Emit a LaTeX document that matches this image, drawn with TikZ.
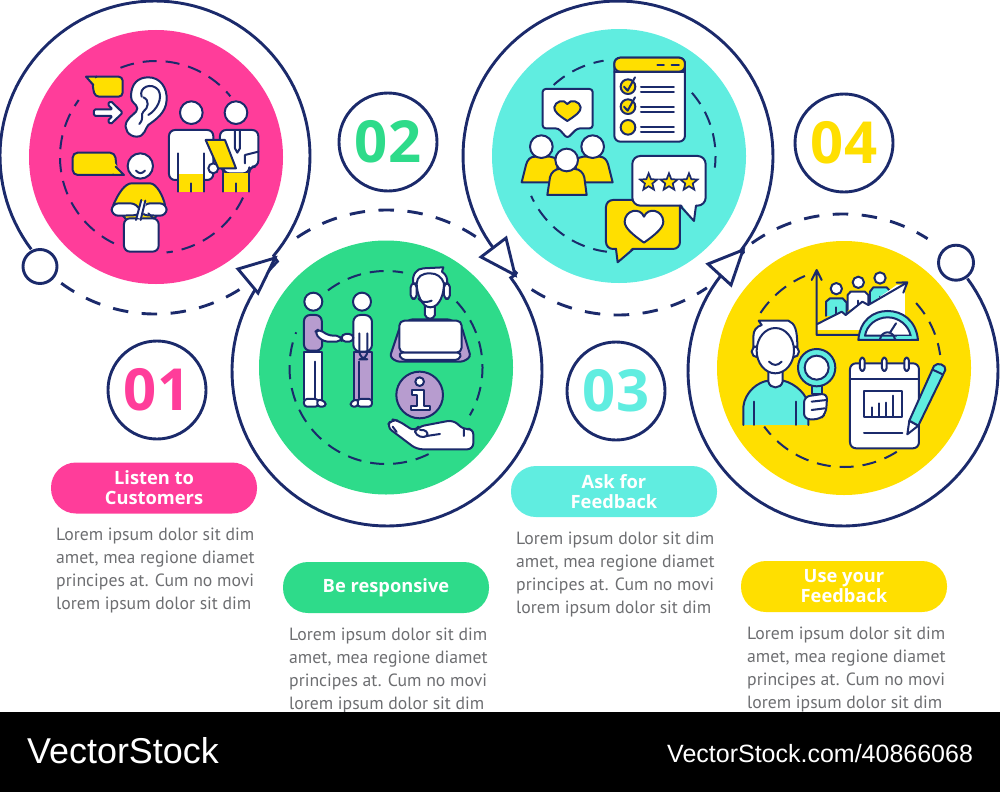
\documentclass[tikz,border=0pt]{standalone}
\usepackage{fontspec}
\usetikzlibrary{shapes.geometric}
\setmainfont{PT Sans}
\newfontfamily\headfont{Open Sans}
\newfontfamily\barfont{Liberation Sans}
\definecolor{navy}{HTML}{1B2A6B}
\definecolor{pinkc}{HTML}{FF3D9A}
\definecolor{greenc}{HTML}{2EDB8A}
\definecolor{cyanc}{HTML}{60EDE0}
\definecolor{yellowc}{HTML}{FFDF00}
\definecolor{purplec}{HTML}{B79CCF}
\definecolor{textgray}{HTML}{6D6E71}
\newcommand{\arcof}[5]{plot[domain=#4:#5,samples=90] ({#1+#3*cos(\x)},{#2+#3*sin(\x)})}
\newcommand{\arcto}[5]{-- plot[domain=#4:#5,samples=90] ({#1+#3*cos(\x)},{#2+#3*sin(\x)})}
\newcommand{\loremtext}{Lorem ipsum dolor sit dim\\amet, mea regione diamet\\principes at. Cum no movi\\lorem ipsum dolor sit dim}
\tikzset{
    ring/.style={navy, line width=2.9pt},
    ringdash/.style={navy, line width=2.9pt, dash pattern=on 15.5pt off 13.5pt},
    innerdash/.style={navy, line width=2pt, dash pattern=on 14pt off 9pt},
    arrowtri/.style={draw=navy, fill=white, line width=2.9pt, line join=miter},
    dot/.style={draw=navy, fill=white, line width=2.9pt},
    numbox/.style={circle, draw=navy, fill=white, line width=2.9pt, minimum size=98pt, inner sep=0pt,
        font=\headfont\fontsize{58}{58}\selectfont\bfseries},
    pillbox/.style={rounded corners=25pt, minimum width=206pt, minimum height=51pt, inner sep=0pt, text=white, align=center,
        font=\headfont\fontsize{18.3}{20}\selectfont\bfseries},
    bodytext/.style={anchor=north west, inner sep=0pt, align=left, text=textgray,
        font=\fontsize{17.7}{23}\selectfont},
    ln/.style={navy, line width=2pt, line join=round, line cap=round},
    wh/.style={ln, fill=white},
    yl/.style={ln, fill=yellowc},
    pu/.style={ln, fill=purplec},
    cy/.style={ln, fill=cyanc},
}
\begin{document}
\begin{tikzpicture}[x=1pt,y=-1pt]
\useasboundingbox (0,0) rectangle (1000,792);

% discs
\fill[pinkc] (156,157) circle (127);
\fill[greenc] (386,367.5) circle (127);
\fill[cyanc] (619,156) circle (127);
\fill[yellowc] (844,368) circle (127);

% ends of the rings
\coordinate (tip1) at (275,258);
\coordinate (tip2) at (515,275);
\coordinate (tip3) at (743,250);

% rings
\draw[ring] (tip1) \arcto{155}{156}{155}{40}{-217};
\draw[ring] (tip2) \arcto{387}{371}{155}{-37}{225} -- (tip1);
\draw[ring] (tip3) \arcto{618}{156}{155}{37}{-229} -- (tip2);
\draw[ring] \arcof{843}{371}{155}{-36.6}{230} -- (tip3);
\draw[ringdash] \arcof{155}{156}{158}{126.4}{56.4};
\draw[ringdash] \arcof{387}{371}{161}{-124}{-52.4};
\draw[ringdash] \arcof{618}{156}{159}{122.9}{56};
\draw[ringdash] \arcof{843}{371}{157}{-125.5}{-57.4};

% arrow heads and free ends
\draw[arrowtri] (tip1) -- (238,269) -- (258,293) -- cycle;
\draw[arrowtri] (tip2) -- (481,257) -- (506,238) -- cycle;
\draw[arrowtri] (tip3) -- (708,264) -- (731,285) -- cycle;
\draw[dot] (40,266.5) circle (17);
\draw[dot] (956,262.7) circle (17.5);

% dashed circles inside the discs
\draw[innerdash] \arcof{156}{157}{96}{-111.7}{-39.2};
\draw[innerdash] \arcof{156}{157}{96}{25}{83.7};
\draw[innerdash] \arcof{156}{157}{96}{116}{216.4};
\draw[innerdash] \arcof{386}{367.5}{96.5}{-127}{-79.8};
\draw[innerdash] \arcof{386}{367.5}{96.5}{-43}{29.7};
\draw[innerdash] \arcof{386}{367.5}{96.5}{63.8}{201.4};
\draw[innerdash] \arcof{619}{156}{96.5}{-132.6}{-99.2};
\draw[innerdash] \arcof{619}{156}{96.5}{-40.9}{6.9};
\draw[innerdash] \arcof{619}{156}{96.5}{97.2}{155.6};
\draw[innerdash] \arcof{844}{368}{100}{-146.6}{-113};
\draw[innerdash] \arcof{844}{368}{97}{-42}{-7.7};
\draw[innerdash] \arcof{844}{368}{99}{57.8}{143.7};

% icon 1
\begin{scope}[shift={(0,0)},x=0.3333pt,y=-0.3333pt]
    \draw[yl,rounded corners=4pt] (278,230) -- (368,230) -- (368,290) -- (285,290) -- (278,260) -- cycle;
    \fill[yellowc] (260,231) -- (285,231) -- (285,255) -- cycle;
    \draw[ln] (258,230) -- (290,230) (258,230) -- (280,255);
    \draw[wh,rounded corners=1.5pt] (282,328) -- (338,328) -- (323,313) -- (332,303) -- (368,338) -- (332,373) -- (323,362) -- (338,348) -- (282,348) -- cycle;
    \draw[wh] (393,290) .. controls (393,250) and (415,232) .. (445,232) .. controls (480,232) and (502,262) .. (500,300) .. controls (498,340) and (465,360) .. (445,375) .. controls (435,385) and (435,410) .. (410,410) .. controls (385,410) and (370,385) .. (380,365) .. controls (390,345) and (412,340) .. (412,325) .. controls (410,310) and (393,310) .. (393,290) -- cycle;
    \draw[ln] (425,290) .. controls (415,262) and (455,245) .. (475,270) .. controls (490,295) and (470,330) .. (445,345);
    \draw[ln] (430,292) .. controls (450,300) and (445,325) .. (430,335) .. controls (420,345) and (435,352) .. (418,372);
    % standing people
    \draw[wh,rounded corners=6pt] (507,390) -- (640,390) -- (640,540) -- (507,540) -- cycle;
    \draw[ln] (533,460) -- (533,525) (612,460) -- (612,525);
    \draw[wh] (574,338) circle (34);
    \fill[yellowc] (535,522) rectangle (612,575);
    \draw[ln] (535,522) -- (535,575) (612,522) -- (612,575) (573,550) -- (573,575);
    \draw[wh,rounded corners=6pt] (660,390) -- (775,390) -- (775,500) -- (748,500) -- (748,520) -- (670,520) -- (670,500) -- (660,500) -- cycle;
    \draw[ln] (705,392) -- (705,445) -- (712,458) -- (720,445) -- (720,392);
    \draw[ln] (775,455) -- (735,465) -- (735,490);
    \fill[yellowc] (670,520) rectangle (748,575);
    \draw[ln] (670,520) -- (670,575) (748,520) -- (748,575) (708,550) -- (708,575);
    \draw[wh] (708,338) circle (34);
    \draw[wh] (640,505) circle (15);
    \draw[yl] (617,420) -- (675,420) -- (708,505) -- (655,505) -- cycle;
    % person with bag
    \draw[yl,rounded corners=5pt] (218,458) -- (345,458) -- (352,525) -- (218,525) -- cycle;
    \fill[yellowc] (345,490) -- (368,523) -- (340,523) -- cycle;
    \draw[ln] (347,500) -- (372,525) -- (340,525);
    \draw[yl] (340,615) .. controls (355,580) and (375,550) .. (395,550) -- (450,550) .. controls (470,550) and (490,590) .. (495,615) -- (460,660) -- (380,660) -- cycle;
    \draw[wh,rounded corners=7pt] (335,610) -- (412,610) -- (425,645) -- (335,648) -- cycle;
    \draw[wh,rounded corners=7pt] (500,610) -- (430,610) -- (420,645) -- (500,648) -- cycle;
    \draw[wh,rounded corners=6pt] (372,655) -- (476,655) -- (476,755) -- (372,755) -- cycle;
    \draw[line width=5pt,white] (418,655) -- (432,605);
    \draw[ln] (408,660) -- (424,600) (422,660) -- (436,602) (445,640) -- (460,655);
    \draw[wh] (421,498) circle (38);
    \draw[ln] (408,512) .. controls (418,522) and (425,522) .. (435,512);
\end{scope}

% icon 2
\begin{scope}[shift={(240,230)},x=0.3333pt,y=-0.3333pt]
    \draw[pu,rounded corners=6pt] (192,362) -- (192,255) -- (245,255) -- (247,362) -- cycle;
    \draw[wh] (192,365) -- (245,365) -- (245,510) -- (192,510) -- cycle;
    \draw[ln] (225,395) -- (225,505);
    \draw[wh,rounded corners=3pt] (192,507) -- (235,507) -- (235,530) -- (192,530) -- cycle;
    \draw[wh,rounded corners=3pt] (232,507) -- (257,515) -- (257,530) -- (232,530) -- cycle;
    \draw[wh] (220,215) circle (27);
    \draw[wh] (366,215) circle (27);
    \draw[pu] (342,365) -- (396,365) -- (396,510) -- (342,510) -- cycle;
    \draw[ln] (358,395) -- (358,505);
    \draw[wh,rounded corners=3pt] (352,507) -- (396,507) -- (396,530) -- (352,530) -- cycle;
    \draw[wh,rounded corners=3pt] (332,515) -- (354,507) -- (354,530) -- (332,530) -- cycle;
    \draw[wh,rounded corners=7pt] (340,365) -- (340,255) -- (396,255) -- (396,365) -- cycle;
    \draw[wh,rounded corners=4pt] (305,312) -- (340,312) -- (340,335) -- (305,335) -- cycle;
    \draw[wh,rounded corners=5pt] (222,308) -- (238,296) -- (262,316) -- (305,318) -- (305,335) -- (250,335) -- cycle;
    \draw[ln,rounded corners=8pt] (358,310) -- (358,388) -- (382,388) -- (382,310);
    % agent at laptop
    \draw[pu,rounded corners=3pt] (510,268) -- (630,268) -- (665,290) -- (692,380) -- (670,395) -- (470,395) -- (450,380) -- (480,290) -- cycle;
    \draw[wh] (555,225) -- (585,225) -- (585,255) .. controls (580,270) and (560,270) .. (555,255) -- cycle;
    \draw[wh,rounded corners=4pt] (512,160) -- (530,160) -- (530,207) -- (512,207) -- cycle;
    \draw[wh,rounded corners=4pt] (612,160) -- (630,160) -- (630,207) -- (612,207) -- cycle;
    \draw[wh] (520,160) .. controls (515,135) and (530,115) .. (550,115) -- (610,112) -- (606,125) .. controls (620,135) and (622,145) .. (622,160) -- (612,160) .. controls (612,190) and (600,232) .. (571,232) .. controls (545,232) and (530,190) .. (530,160) -- cycle;
    \draw[ln] (530,160) .. controls (532,140) and (545,130) .. (570,130) .. controls (590,130) and (605,140) .. (612,160);
    \draw[ln] (535,205) .. controls (540,215) and (555,220) .. (575,212);
    \draw[wh,rounded corners=5pt] (478,272) -- (665,272) -- (665,368) -- (478,368) -- cycle;
    \draw[wh,rounded corners=4pt] (475,368) -- (665,368) -- (658,390) -- (485,390) -- cycle;
    % info and hand
    \draw[pu] (539,495) circle (70);
    \draw[wh] (539,455) circle (13);
    \draw[wh] (515,480) -- (553,480) -- (553,527) -- (570,527) -- (570,540) -- (512,540) -- (512,527) -- (530,527) -- (530,494) -- (515,494) -- cycle;
    \draw[wh,rounded corners=6pt] (440,590) -- (455,568) -- (475,572) -- (525,605) -- (535,590) -- (640,570) -- (672,600) -- (700,595) -- (700,658) -- (530,658) -- cycle;
    \draw[ln] (458,590) -- (470,606);
    \draw[ln] (672,598) -- (672,618) (600,612) -- (560,618) (525,605) .. controls (530,620) and (550,625) .. (560,618) .. controls (568,608) and (555,597) .. (540,600);
\end{scope}

% icon 3
\begin{scope}[shift={(470,20)},x=0.3333pt,y=-0.3333pt]
    \draw[wh,rounded corners=3pt] (218,207) -- (368,207) -- (368,325) -- (322,325) -- (292,355) -- (265,325) -- (218,325) -- cycle;
    \draw[yl] (292,303) .. controls (265,285) and (252,275) .. (253,262) .. controls (254,245) and (282,235) .. (292,252) .. controls (302,235) and (331,245) .. (332,262) .. controls (333,275) and (319,285) .. (292,303) -- cycle;
    \draw[yl] (155,487) -- (168,435) .. controls (172,420) and (180,410) .. (195,410) -- (240,410) .. controls (250,410) and (258,415) .. (262,422) -- (262,487) -- cycle;
    \draw[yl] (428,487) -- (415,435) .. controls (411,420) and (403,410) .. (388,410) -- (340,410) .. controls (330,410) and (322,415) .. (318,422) -- (318,487) -- cycle;
    \draw[wh] (214,380) circle (34);
    \draw[wh] (368,380) circle (34);
    \draw[yl] (232,525) -- (240,472) .. controls (243,458) and (255,447) .. (268,447) -- (315,447) .. controls (328,447) and (340,458) .. (343,472) -- (350,525) -- cycle;
    \draw[wh] (290,420) circle (34);
    % check list
    \draw[wh,rounded corners=6pt] (433,113) -- (645,113) -- (645,365) -- (433,365) -- cycle;
    \draw[yl,rounded corners=6pt] (433,155) -- (433,113) -- (645,113) -- (645,155) -- cycle;
    \draw[ln] (433,155) -- (645,155) (562,135) -- (582,135) (605,135) -- (627,135);
    \foreach \yy in {200,260,322}
        \draw[yl] (474,\yy) circle (22);
    \draw[ln] (462,200) -- (473,212) -- (495,172) (462,260) -- (473,272) -- (495,232);
    \foreach \yy in {200,215,260,275,320,336}
        \draw[ln] (513,\yy) -- (612,\yy);
    % rating bubbles
    \draw[yl,rounded corners=7pt] (408,540) -- (630,540) -- (630,687) -- (408,687) -- cycle;
    \fill[yellowc] (440,680) -- (443,725) -- (490,680) -- cycle;
    \draw[ln] (438,687) -- (443,727) -- (490,687);
    \draw[wh] (522,668) .. controls (490,645) and (464,625) .. (464,605) .. controls (465,570) and (510,560) .. (522,590) .. controls (534,560) and (579,570) .. (580,605) .. controls (580,625) and (554,645) .. (522,668) -- cycle;
    \draw[wh,rounded corners=8pt] (487,408) -- (707,408) -- (707,557) -- (487,557) -- cycle;
    \fill[white] (632,550) -- (672,601) -- (678,550) -- cycle;
    \draw[ln] (630,557) -- (672,603) -- (678,557);
    \foreach \xx/\nm in {536/a,597/b,657/c}
        \node[star,star points=5,star point ratio=2.3,minimum size=18pt,inner sep=0pt,fill=yellowc,draw=navy,line width=1.7pt] (star\nm) at (\xx,487) {};
\end{scope}

% icon 4
\begin{scope}[shift={(700,230)},x=0.3333pt,y=-0.3333pt]
    % chart
    \fill[cyanc] (378,258) -- (378,215) -- (390,205) -- (428,205) -- (440,218) -- (440,258) -- cycle;
    \draw[ln] (378,258) -- (378,215) -- (390,205) -- (428,205) -- (440,218) -- (440,258);
    \draw[ln,fill=white] (443,240) -- (443,195) -- (452,185) -- (495,185) -- (505,195) -- (505,230);
    \draw[ln,fill=cyanc] (510,225) -- (510,185) -- (520,172) -- (560,172) -- (572,185) -- (572,200);
    \draw[ln] (409,232) -- (409,258) (473,212) -- (473,240) (540,200) -- (540,215);
    \draw[wh] (409,176) circle (17);
    \draw[wh] (475,157) circle (17);
    \draw[wh] (540,144) circle (17);
    \fill[white] (352,282) -- (425,245) -- (437,255) -- (487,215) -- (505,225) -- (590,165) -- (615,165) -- (615,320) -- (480,320) -- (480,300) -- (352,300) -- cycle;
    \draw[ln] (352,282) -- (425,245) -- (437,255) -- (487,215) -- (505,225) -- (622,157) (590,158) -- (622,157) -- (610,188);
    \draw[ln] (335,150) -- (350,120) -- (365,150) (350,120) -- (350,315) -- (480,315);
    % gauge
    \draw[cy] (475,330) .. controls (480,270) and (520,243) .. (563,243) .. controls (606,243) and (648,270) .. (654,330) -- cycle;
    \draw[wh] (495,317) .. controls (500,285) and (530,262) .. (563,262) .. controls (596,262) and (625,285) .. (632,317) -- cycle;
    \fill[cyanc] (590,319) rectangle (632,326);
    \draw[ln] (540,328) .. controls (545,300) and (580,300) .. (585,328);
    \draw[ln] (570,308) -- (588,280);
    % man
    \draw[cy] (130,585) -- (130,530) .. controls (135,485) and (175,455) .. (205,452) -- (250,452) .. controls (285,460) and (325,495) .. (325,530) -- (325,585);
    \draw[ln] (162,515) -- (162,585) (288,515) -- (288,585);
    \draw[wh] (205,415) -- (205,455) .. controls (210,478) and (243,478) .. (248,455) -- (248,415);
    \draw[wh] (172,365) circle (17);
    \draw[wh] (280,365) circle (17);
    \draw[wh] (176,272) -- (265,272) .. controls (285,280) and (292,300) .. (292,350) -- (160,350) -- (160,320) .. controls (160,300) and (170,290) .. (185,285) -- cycle;
    \draw[wh] (226,362) ellipse (56 and 68);
    \draw[ln] (207,395) .. controls (220,408) and (232,408) .. (245,395);
    % magnifier
    \draw[cy] (335,465) -- (365,465) -- (365,492) -- (335,492) -- cycle;
    \draw[cy] (350,413) circle (56);
    \draw[wh] (350,413) circle (36);
    \draw[wh,rounded corners=6pt] (312,500) -- (382,490) -- (378,550) -- (360,568) -- (312,568) -- cycle;
    \draw[ln] (335,515) -- (380,510) (335,540) -- (375,535);
    % calendar
    \draw[wh,rounded corners=6pt] (450,400) -- (657,400) -- (657,655) -- (450,655) -- cycle;
    \draw[ln] (450,447) -- (657,447);
    \foreach \xx in {487,553,620}
        \draw[wh,rounded corners=3pt] (\xx-7,383) -- (\xx+7,383) -- (\xx+7,423) -- (\xx-7,423) -- cycle;
    \draw[ln] (492,483) rectangle (607,560);
    \draw[ln] (515,532) -- (515,558) (537,520) -- (537,558) (558,518) -- (558,558) (580,497) -- (580,558);
    \draw[ln] (492,610) -- (607,610);
    % pencil
    \draw[wh] (628,572) -- (622,613) -- (655,587) -- cycle;
    \draw[cy] (628,572) -- (702,408) .. controls (712,395) and (740,405) .. (736,420) -- (655,587) -- cycle;
    \draw[ln] (700,420) -- (728,433);
\end{scope}

% numbers
\node[numbox,text=pinkc] (num1) at (157,390) {01};
\node[numbox,text=greenc] (num2) at (388,142) {02};
\node[numbox,text=cyanc] (num3) at (616,391) {03};
\node[numbox,text=yellowc] (num4) at (844,143) {04};

% titles
\node[pillbox,fill=pinkc] (pill1) at (154,488) {Listen to\\Customers};
\node[pillbox,fill=greenc] (pill2) at (386,587.5) {Be responsive};
\node[pillbox,fill=cyanc] (pill3) at (614,491.5) {Ask for\\Feedback};
\node[pillbox,fill=yellowc] (pill4) at (844,586.5) {Use your\\Feedback};

% texts
\node[bodytext] (body1) at (56,528) {\loremtext};
\node[bodytext] (body2) at (289,628) {\loremtext};
\node[bodytext] (body3) at (516,532) {\loremtext};
\node[bodytext] (body4) at (747,627) {\loremtext};

% black bar
\fill[black] (0,712) rectangle (1000,792);
\node[anchor=base west,inner sep=0pt,text=white,font=\barfont\fontsize{35.9}{36}\selectfont] (brand) at (27,763) {VectorStock};
\node[anchor=base west,inner sep=0pt,text=white,font=\barfont\fontsize{25}{26}\selectfont] (link) at (667,762.7) {VectorStock.com/40866068};
\end{tikzpicture}
\end{document}
